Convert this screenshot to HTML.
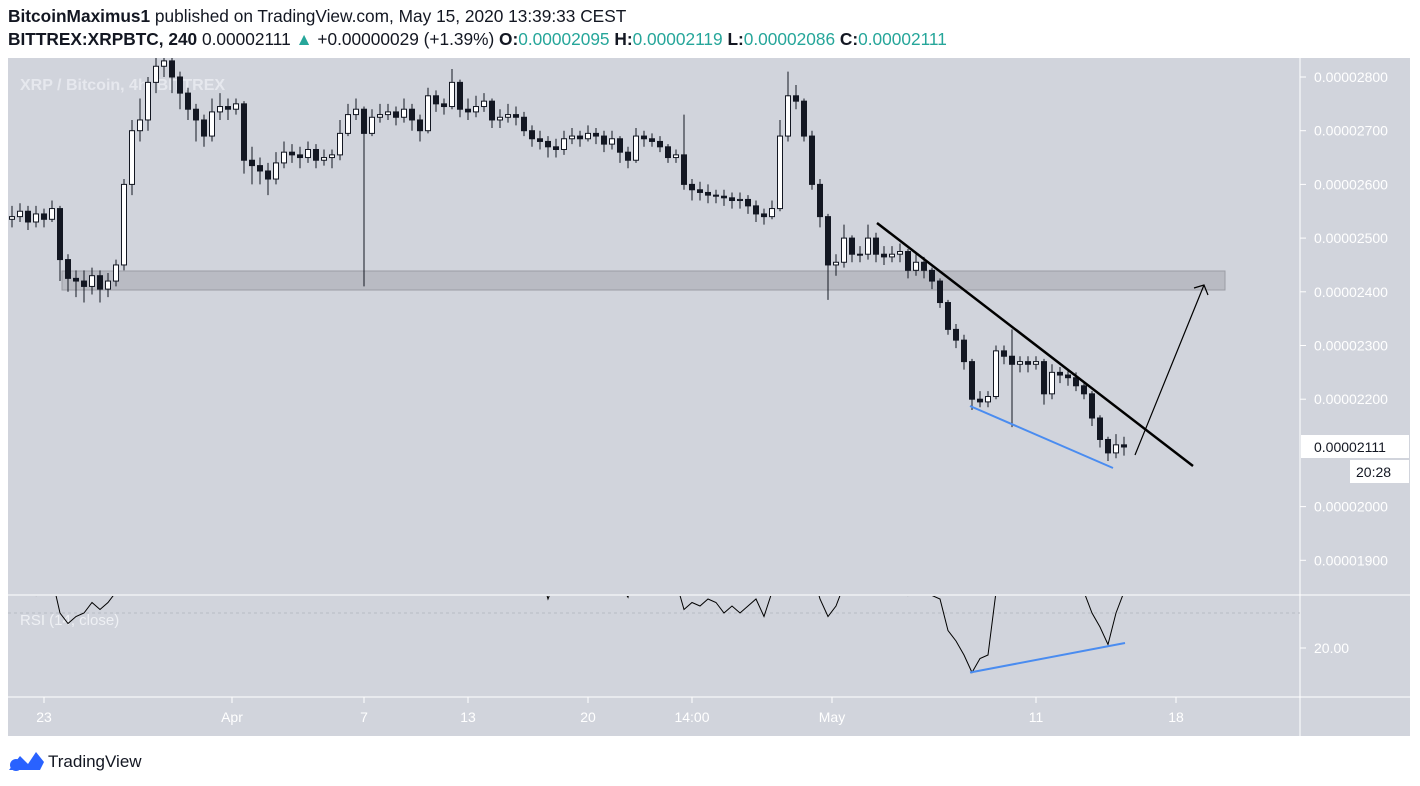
<!DOCTYPE html>
<html><head><meta charset="utf-8">
<style>
body{margin:0;background:#fff;font-family:"Liberation Sans",sans-serif;}
#wrap{position:relative;width:1420px;height:786px;overflow:hidden;}
.hdr{position:absolute;left:8px;font-size:17.3px;color:#131722;white-space:nowrap}
.g{color:#26a69a}
</style></head><body>
<div id="wrap">
<div class="hdr" style="top:6px"><b>BitcoinMaximus1</b> published on TradingView.com, May 15, 2020 13:39:33 CEST</div>
<div class="hdr" style="top:29px"><b>BITTREX:XRPBTC, 240</b> 0.00002111 <span class="g">▲</span> +0.00000029 (+1.39%) <b>O:</b><span class="g">0.00002095</span> <b>H:</b><span class="g">0.00002119</span> <b>L:</b><span class="g">0.00002086</span> <b>C:</b><span class="g">0.00002111</span></div>
<svg id="chart" width="1420" height="786" style="position:absolute;left:0;top:0"></svg>
</div>
<script>
const closes=[2540,2550,2530,2545,2535,2555,2460,2425,2420,2410,2430,2405,2420,2450,2600,2700,2720,2790,2820,2830,
2800,2770,2740,2720,2690,2735,2745,2740,2750,2645,2635,2625,2610,2640,2660,2655,2650,2665,2645,2650,
2655,2695,2730,2740,2695,2725,2730,2735,2725,2740,2720,2700,2765,2750,2745,2790,2740,2735,2745,2755,
2720,2725,2730,2725,2700,2685,2680,2670,2665,2685,2690,2685,2695,2690,2675,2685,2660,2645,2690,2685,
2680,2670,2650,2655,2600,2590,2585,2580,2578,2575,2570,2572,2560,2545,2540,2555,2690,2765,2755,2690,
2600,2540,2450,2455,2500,2470,2470,2500,2470,2465,2470,2475,2440,2455,2440,2420,2380,2330,2310,2270,
2200,2195,2205,2290,2280,2265,2270,2265,2270,2210,2250,2245,2240,2225,2210,2165,2125,2100,2115,2111];
const highs=[2560,2565,2560,2560,2555,2570,2560,2470,2440,2440,2445,2440,2435,2460,2610,2720,2760,2800,2840,2850,
2840,2810,2780,2750,2730,2760,2770,2760,2760,2755,2670,2650,2640,2660,2680,2675,2670,2680,2675,2665,
2665,2720,2750,2760,2745,2740,2750,2750,2745,2760,2750,2730,2780,2775,2760,2815,2795,2760,2765,2770,
2760,2740,2750,2745,2735,2710,2700,2690,2685,2700,2705,2700,2710,2705,2700,2700,2690,2670,2705,2700,
2695,2690,2675,2665,2730,2610,2605,2600,2590,2590,2585,2585,2580,2570,2555,2570,2720,2810,2785,2760,
2700,2610,2545,2470,2525,2505,2485,2525,2510,2485,2485,2490,2480,2470,2465,2445,2425,2385,2340,2320,
2275,2215,2215,2300,2300,2330,2280,2280,2280,2275,2265,2260,2255,2250,2230,2215,2170,2130,2135,2130];
const lows=[2520,2530,2515,2520,2520,2530,2420,2400,2390,2380,2395,2380,2390,2410,2440,2580,2680,2700,2770,2800,
2770,2740,2720,2680,2670,2680,2720,2720,2730,2620,2600,2600,2580,2600,2630,2640,2630,2640,2630,2635,
2630,2645,2690,2720,2410,2690,2715,2720,2710,2715,2700,2680,2695,2735,2730,2740,2725,2720,2725,2735,
2705,2705,2715,2710,2690,2670,2665,2650,2650,2655,2675,2670,2680,2675,2660,2665,2640,2630,2640,2670,
2670,2660,2640,2640,2590,2570,2570,2565,2565,2560,2555,2555,2545,2530,2525,2535,2550,2680,2740,2680,
2590,2520,2385,2430,2445,2455,2455,2460,2455,2450,2455,2455,2425,2430,2425,2405,2370,2320,2295,2255,
2180,2185,2185,2200,2265,2148,2250,2250,2255,2190,2200,2230,2225,2215,2200,2150,2110,2085,2090,2095];
const rsi=[38,36,37,35,38,40,30,27,29,30,33,31,33,36,60,70,72,75,76,76,
70,65,60,57,52,58,59,58,59,45,43,42,41,46,50,49,48,51,47,48,
49,57,62,63,55,60,61,61,59,62,58,55,64,61,60,66,57,56,58,59,
52,53,54,53,48,45,42,34,40,45,46,45,48,46,42,44,38,34.5,48,46,
44,42,38,39,31,33,32,34,33,30,32,30,32,34,29,36,62,70,66,55,
42,34,29,32,38,36,36,40,36,36,37,38,35,37,35,35,34,25,22,18,
13,17,18,36,38,37,38,37,38,36,40,39,38,37,36,30,26,21,30,36];
const priceTicks=[2800,2700,2600,2500,2400,2300,2200,2000,1900];
const dateLabels=["23","Apr","7","13","20","14:00","May","11","18"];
const dateIdx=[4,27.5,44,57,72,85,102.5,128,145.5];

const svg=document.getElementById('chart');
const NS='http://www.w3.org/2000/svg';
function el(t,a,p){const e=document.createElementNS(NS,t);for(const k in a)e.setAttribute(k,a[k]);(p||svg).appendChild(e);return e;}
const xS=i=>12+8*i;
const yS=p=>77+(2800-p)*0.537;
const yR=v=>648-(v-20)*3.5;

const bg=el('rect',{x:8,y:58,width:1402,height:678,fill:'#d1d4dc'});


const defs=el('defs',{});
const cp=el('clipPath',{id:'mainclip'},defs);el('rect',{x:8,y:58,width:1292,height:537},cp);
const cp2=el('clipPath',{id:'rsiclip'},defs);el('rect',{x:8,y:596,width:1292,height:101},cp2);

const zone=el('rect',{x:62,y:271,width:1163,height:19,fill:'#b9bbc3',stroke:'#9a9ca4','stroke-width':1});



const title=el('text',{x:20,y:90,fill:'#e6e8ee','font-size':16,'font-weight':'bold','font-family':'Liberation Sans, sans-serif'});
title.textContent='XRP / Bitcoin, 4h, BITTREX';



const cg=el('g',{'clip-path':'url(#mainclip)'});


for(let i=0;i<closes.length;i++){
  const o=i?closes[i-1]:2535,c=closes[i],x=xS(i);
  el('line',{x1:x,x2:x,y1:yS(highs[i]),y2:yS(lows[i]),stroke:'#131722','stroke-width':1},cg);
  const top=yS(Math.max(o,c)),bot=yS(Math.min(o,c));
  const r=el('rect',{x:x-2.5,y:top,width:5,height:Math.max(1,bot-top),fill:c>=o?'#ffffff':'#131722',stroke:'#131722','stroke-width':1},cg);
  
  
}
const tl=el('line',{x1:877,y1:223,x2:1193,y2:466,stroke:'#000','stroke-width':2.5});


const bl=el('line',{x1:970,y1:406,x2:1113,y2:468,stroke:'#4a8cf0','stroke-width':2});


const ar=el('path',{d:'M1135 455 L1204 285 M1194 288 L1204 285 L1208 295',stroke:'#000','stroke-width':1.2,fill:'none'});



el('line',{x1:8,x2:1410,y1:595,y2:595,stroke:'#fff','stroke-width':1});
el('line',{x1:8,x2:1410,y1:697,y2:697,stroke:'#fff','stroke-width':1});
el('line',{x1:1300,x2:1300,y1:58,y2:736,stroke:'#fff','stroke-width':1});
el('line',{x1:8,x2:1300,y1:613,y2:613,stroke:'#b8bbc3','stroke-width':1,'stroke-dasharray':'3,3'});

const rl=el('text',{x:20,y:625,fill:'#eef0f4','font-size':15,'font-family':'Liberation Sans, sans-serif'});
rl.textContent='RSI (14, close)';


let d='';rsi.forEach((v,i)=>{d+=(i?'L':'M')+xS(i)+' '+yR(v)+' ';});
const rp=el('path',{d:d,stroke:'#000','stroke-width':1,fill:'none','clip-path':'url(#rsiclip)'});


const rb=el('line',{x1:970,y1:yR(13),x2:1125,y2:643,stroke:'#4a8cf0','stroke-width':2});



priceTicks.forEach(p=>{
  const y=yS(p);
  el('line',{x1:1300,x2:1306,y1:y,y2:y,stroke:'#fff'});
  const t=el('text',{x:1314,y:y+5,fill:'#fff','font-size':14,'font-family':'Liberation Sans, sans-serif'});
  t.textContent='0.0000'+p;
  
  
});
el('line',{x1:1300,x2:1306,y1:648,y2:648,stroke:'#fff'});
const r20=el('text',{x:1314,y:653,fill:'#fff','font-size':14,'font-family':'Liberation Sans, sans-serif'});
r20.textContent='20.00';


el('rect',{x:1301,y:435,width:108,height:23,fill:'#fff'});
const cpx=el('text',{x:1314,y:452,fill:'#131722','font-size':14,'font-family':'Liberation Sans, sans-serif'});
cpx.textContent='0.00002111';


el('rect',{x:1350,y:460,width:59,height:23,fill:'#fff'});
const cd=el('text',{x:1356,y:477,fill:'#131722','font-size':14,'font-family':'Liberation Sans, sans-serif'});
cd.textContent='20:28';



dateLabels.forEach((s,k)=>{
  const x=xS(dateIdx[k]);
  el('line',{x1:x,x2:x,y1:697,y2:703,stroke:'#fff'});
  const t=el('text',{x:x,y:722,fill:'#fff','font-size':14,'text-anchor':'middle','font-family':'Liberation Sans, sans-serif'});
  t.textContent=s;
  
  
});

const lg=el('g',{});


el('path',{d:'M9 770 L20 756 L28 764 L36 752 L44 762 L40 770 Z',fill:'#2962ff'},lg);
el('circle',{cx:16,cy:765,r:6,fill:'#2962ff'},lg);
const lt=el('text',{x:48,y:767,fill:'#131722','font-size':17,'font-family':'Liberation Sans, sans-serif'},lg);
lt.textContent='TradingView';
</script>
</body></html>
